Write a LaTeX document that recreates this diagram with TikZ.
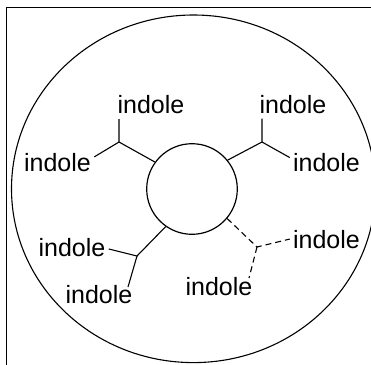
\documentclass[tikz,border=0pt]{standalone}
\usepackage{fontspec}
\setmainfont{Liberation Sans}
\usetikzlibrary{positioning,calc}
\begin{document}
\begin{tikzpicture}[x=0.5pt,y=-0.5pt,mol/.style={font=\fontsize{12.5}{14}\selectfont,inner xsep=1.5pt,inner ysep=2.5pt,anchor=base},hub/.style={draw,circle,line width=0.6pt,minimum size=45.3pt,inner sep=0pt},link/.style={line width=0.55pt},weak/.style={link,dash pattern=on 3pt off 2pt}]
\useasboundingbox (0,0) rectangle (371,365);
\clip (0,0) rectangle (371,365);
\draw[line width=0.65pt] (6.7,365) |- (371,7.3);
\draw[line width=0.55pt] (193.5,188.8) ellipse [x radius=91pt,y radius=86.9pt];
\node[hub] (hub) at (192,189) {};
\node[mol] (L1) at (151,113.5) {indole};
\node[mol] (L2) at (57.5,171) {indole};
\node[mol] (L3) at (293,113) {indole};
\node[mol] (L4) at (326.5,171) {indole};
\node[mol] (L5) at (72,256) {indole};
\node[mol] (L6) at (99,303) {indole};
\node[mol] (L7) at (326.5,248) {indole};
\node[mol] (L8) at (219,295) {indole};
\coordinate (j1) at (119,142);
\coordinate (j2) at (262,142);
\coordinate (j3) at (137,256);
\coordinate (j4) at (257,247);
\coordinate (c6) at (128,287);
\coordinate (c8) at (249,278);
\draw[link] (hub.144) -- (j1) -- (j1 |- L1.south);
\draw[link] (j1) -- (L2.8);
\draw[link] (hub.39) -- (j2) -- (j2 |- L3.south);
\draw[link] (j2) -- (L4.173);
\draw[link] (hub.235) -- (j3) -- (L5.-3);
\draw[link] (j3) -- (c6);
\draw[weak] (hub.-40) -- (j4) -- (L7.west);
\draw[weak] (j4) -- (c8);
\end{tikzpicture}
\end{document}
